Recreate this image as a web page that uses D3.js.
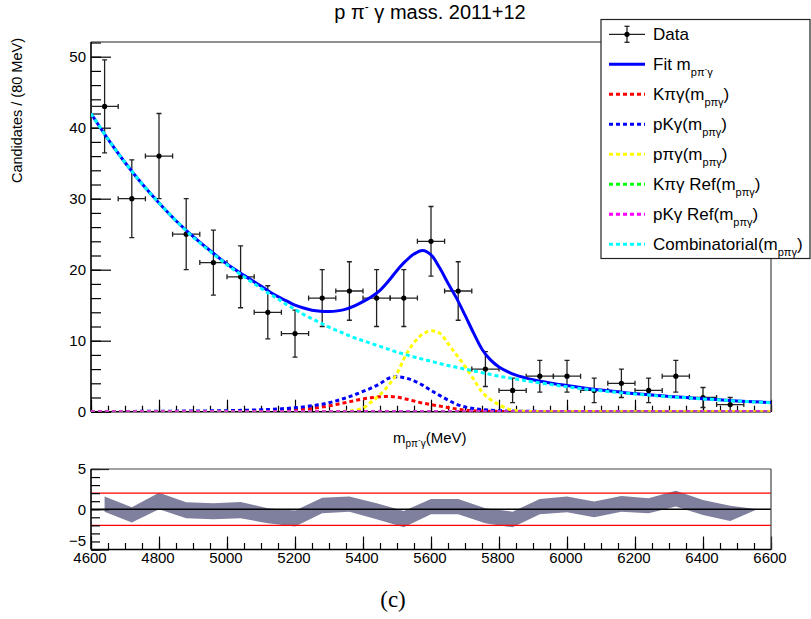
<!DOCTYPE html>
<html><head><meta charset="utf-8">
<script src="https://cdn.jsdelivr.net/npm/d3@7/dist/d3.min.js"></script>
<style>
body{margin:0;background:#fff;}
svg{display:block;font-family:"Liberation Sans",Arial,Helvetica,sans-serif;}
</style></head><body>
<svg id="chart" width="811" height="619"></svg>
<script>
// ---------------- data ----------------
// binned candidates (80 MeV bins)
const binCenters = [4640,4720,4800,4880,4960,5040,5120,5200,5280,5360,5440,5520,5600,5680,5760,5840,5920,6000,6080,6160,6240,6320,6400,6480,6560];
const counts     = [43,30,36,25,21,19,14,11,16,17,16,16,24,17,6,3,5,5,3,4,3,5,2,1,0];
const countErrors= [6.56,5.48,6.0,5.0,4.58,4.36,3.74,3.32,4.0,4.12,4.0,4.0,4.9,4.12,2.45,1.73,2.24,2.24,1.73,2.0,1.73,2.24,1.41,1.0,0];
const binHalfWidth = 40;

// fit model and its components, sampled in mass
const massGrid = [4600,4650,4700,4750,4800,4850,4900,4950,5000,5050,5100,
  5125,5150,5175,5200,5225,5250,5275,5300,5325,5350,5375,5400,5425,5450,5475,5500,5525,5550,5575,5600,5625,5650,5675,5700,5725,5750,5775,5800,5825,5850,5875,5900,
  5950,6000,6050,6100,6150,6200,6250,6300,6350,6400,6450,6500,6550,6600];
const fitTotal = [42.0,38.4,35.1,32.1,29.4,26.9,24.7,22.7,20.8,19.2,17.7,
  16.9,16.2,15.6,15.0,14.6,14.3,14.15,14.1,14.2,14.45,14.9,15.5,16.2,17.1,18.4,19.9,21.2,22.2,22.7,22.1,20.3,18.1,16.0,13.6,11.1,8.8,7.3,6.3,5.65,5.15,4.8,4.5,
  4.05,3.68,3.35,3.05,2.8,2.55,2.35,2.15,2.0,1.82,1.67,1.52,1.4,1.28];
const combinatorial = [42.0,38.4,35.1,32.1,29.4,26.9,24.6,22.6,20.7,19.0,17.4,
  16.6,15.9,15.1,14.4,13.7,13.1,12.5,11.9,11.4,10.9,10.4,10.0,9.6,9.2,8.8,8.4,8.05,7.7,7.4,7.1,6.8,6.5,6.25,6.0,5.75,5.5,5.25,5.0,4.8,4.6,4.4,4.2,
  3.85,3.5,3.2,2.95,2.7,2.5,2.3,2.1,1.95,1.8,1.65,1.5,1.38,1.27];
const kPiGamma = [0,0,0,0,0,0.01,0.01,0.02,0.02,0.03,0.07,
  0.1,0.15,0.22,0.3,0.38,0.47,0.62,0.82,1.05,1.3,1.55,1.8,1.98,2.1,2.15,2.05,1.8,1.5,1.22,1.0,0.8,0.58,0.38,0.22,0.14,0.09,0.06,0.04,0.03,0.02,0.02,0.01,
  0.01,0.01,0,0,0,0,0,0,0,0,0,0,0,0];
const pKGamma = [0.02,0.03,0.04,0.05,0.06,0.08,0.1,0.12,0.15,0.2,0.27,
  0.32,0.38,0.46,0.56,0.68,0.83,1.02,1.27,1.58,1.95,2.38,2.85,3.35,3.95,4.7,4.92,4.75,4.35,3.75,3.0,2.3,1.65,1.05,0.68,0.45,0.3,0.2,0.14,0.1,0.08,0.06,0.05,
  0.04,0.03,0.03,0.02,0.02,0.02,0.01,0.01,0.01,0.01,0.01,0.01,0.01,0.01];
const pPiGamma = [0,0,0,0,0,0,0,0,0,0,0,
  0,0,0,0,0,0,0,0,0.01,0.05,0.2,0.5,1.4,2.4,3.7,5.4,7.9,9.7,10.9,11.4,11.1,9.6,8.0,6.4,4.6,2.8,1.7,1.0,0.4,0.15,0.05,0.02,
  0,0,0,0,0,0,0,0,0,0,0,0,0,0];
const refGrid = [4600,5100,5600,6100,6600];
const kPiGammaRef = [0,0,0,0,0];
const pKGammaRef  = [0,0,0,0,0];

// pull band (upper / lower edge per bin)
const pullHigh = [1.57,0.25,2.06,0.87,0.74,0.9,0.12,-0.17,1.44,1.57,0.74,-0.21,1.28,1.28,0.12,-0.3,1.28,1.57,0.95,1.65,1.36,2.31,1.15,0.45,0];
const pullLow  = [-0.3,-1.66,0.0,-1.12,-1.24,-1.12,-1.74,-2.15,-0.5,-0.3,-1.24,-2.24,-0.62,-0.62,-1.74,-2.24,-0.62,-0.37,-0.99,-0.3,-0.5,0.33,-0.7,-1.45,0];
const pullLimits = [-2, 2];

// axis ticks
const massTicks = [4600,4800,5000,5200,5400,5600,5800,6000,6200,6400,6600];
const countTicks = [0,10,20,30,40,50];
const pullTicks = [-5,0,5];

// ---------------- layout ----------------
const svg = d3.select("#chart");
const left = 91, right = 771;
const x  = d3.scaleLinear().domain([4600, 6600]).range([left, right]);
const y  = d3.scaleLinear().domain([0, 52.07]).range([411.7, 42]);
const yr = d3.scaleLinear().domain([-5, 5]).range([549.5, 469]);

function clean(g){ g.select(".domain").remove(); g.selectAll("line").attr("stroke","#000").attr("stroke-width",1.2); }
function labelStyle(g){ g.select(".domain").remove(); g.selectAll("text").attr("font-size",15).attr("fill","#000").attr("font-family","Liberation Sans, Arial, sans-serif"); }

// ---------------- main panel ----------------
svg.append("clipPath").attr("id","clipMain").append("rect")
  .attr("x", left).attr("y", y.range()[1]).attr("width", right-left).attr("height", y.range()[0]-y.range()[1]);

// y ticks (inside)
svg.append("g").attr("transform",`translate(${left},0)`)
  .call(d3.axisRight(y).tickValues(d3.range(0, 52.07, 2)).tickSize(10).tickFormat("")).call(clean);
svg.append("g").attr("transform",`translate(${left},0)`)
  .call(d3.axisRight(y).tickValues(countTicks).tickSize(20).tickFormat("")).call(clean);
svg.append("g").attr("transform",`translate(${left},0)`)
  .call(d3.axisLeft(y).tickValues(countTicks).tickSize(0).tickPadding(5).tickFormat(d3.format("d")))
  .call(labelStyle);

// x ticks (inside, no labels)
svg.append("g").attr("transform",`translate(0,${y(0)})`)
  .call(d3.axisTop(x).tickValues(d3.range(4600, 6601, 50)).tickSize(6).tickFormat("")).call(clean);
svg.append("g").attr("transform",`translate(0,${y(0)})`)
  .call(d3.axisTop(x).tickValues(massTicks).tickSize(12).tickFormat("")).call(clean);

// frame
svg.append("line").attr("x1",left).attr("x2",right).attr("y1",y.range()[1]).attr("y2",y.range()[1]).attr("stroke","#222").attr("stroke-width",1.2);
svg.append("line").attr("x1",right).attr("x2",right).attr("y1",y.range()[1]).attr("y2",y(0)).attr("stroke","#444").attr("stroke-width",1.2);
svg.append("line").attr("x1",left).attr("x2",left).attr("y1",y.range()[1]).attr("y2",y(0)).attr("stroke","#000").attr("stroke-width",1.6);
svg.append("line").attr("x1",left).attr("x2",right).attr("y1",y(0)).attr("y2",y(0)).attr("stroke","#000").attr("stroke-width",1.6);

// data points with error bars
const pts = binCenters.map((m,i)=>({m, n:counts[i], e:countErrors[i]})).filter(d=>d.n>0);
const gd = svg.append("g").attr("stroke","#222").attr("stroke-width",1.3).attr("clip-path","url(#clipMain)");
pts.forEach(d=>{
  const cx = x(d.m), cy = y(d.n);
  gd.append("line").attr("x1",x(d.m-binHalfWidth)).attr("x2",x(d.m+binHalfWidth)).attr("y1",cy).attr("y2",cy);
  gd.append("line").attr("x1",cx).attr("x2",cx).attr("y1",y(d.n+d.e)).attr("y2",y(d.n-d.e));
  gd.append("line").attr("x1",x(d.m-binHalfWidth)).attr("x2",x(d.m-binHalfWidth)).attr("y1",cy-2.5).attr("y2",cy+2.5);
  gd.append("line").attr("x1",x(d.m+binHalfWidth)).attr("x2",x(d.m+binHalfWidth)).attr("y1",cy-2.5).attr("y2",cy+2.5);
  gd.append("line").attr("x1",cx-2.5).attr("x2",cx+2.5).attr("y1",y(d.n+d.e)).attr("y2",y(d.n+d.e));
  gd.append("line").attr("x1",cx-2.5).attr("x2",cx+2.5).attr("y1",y(d.n-d.e)).attr("y2",y(d.n-d.e));
  gd.append("circle").attr("cx",cx).attr("cy",cy).attr("r",2.6).attr("fill","#000").attr("stroke","none");
});

// curves
const line = d3.line().x(d=>x(d[0])).y(d=>y(d[1])).curve(d3.curveCatmullRom.alpha(0.5));
const curves = [
  {grid: massGrid, vals: fitTotal,      color:"#0000ff", dash:null},
  {grid: massGrid, vals: kPiGamma,      color:"#ff0000", dash:"4 3"},
  {grid: massGrid, vals: pKGamma,       color:"#0000ff", dash:"4 3"},
  {grid: massGrid, vals: pPiGamma,      color:"#ffff00", dash:"4 3"},
  {grid: refGrid,  vals: kPiGammaRef,   color:"#00ff00", dash:"4 3"},
  {grid: refGrid,  vals: pKGammaRef,    color:"#ff00ff", dash:"4 3"},
  {grid: massGrid, vals: combinatorial, color:"#00ffff", dash:"4 3"}
];
const gc = svg.append("g").attr("clip-path","url(#clipMain)");
curves.forEach(c=>{
  gc.append("path").attr("d", line(c.grid.map((m,i)=>[m,c.vals[i]])))
    .attr("fill","none").attr("stroke",c.color).attr("stroke-width",3)
    .attr("stroke-dasharray",c.dash);
});

// title
const title = svg.append("text").attr("x",430).attr("y",19).attr("text-anchor","middle").attr("font-size",20).attr("fill","#000");
title.append("tspan").text("p π");
title.append("tspan").attr("font-size",12).attr("dy",-8).text("-");
title.append("tspan").attr("dy",8).text(" γ mass. 2011+12");

// y title
svg.append("text").attr("transform","translate(22,38) rotate(-90)").attr("text-anchor","end")
  .attr("font-size",14.5).attr("fill","#000").text("Candidates / (80 MeV)");

// x title
const xt = svg.append("text").attr("x",393).attr("y",443).attr("font-size",15).attr("fill","#000");
xt.append("tspan").text("m");
xt.append("tspan").attr("font-size",10).attr("dy",4).text("pπ");
xt.append("tspan").attr("font-size",8).attr("dy",-5).text("-");
xt.append("tspan").attr("font-size",10).attr("dy",5).text("γ");
xt.append("tspan").attr("dy",-4).text("(MeV)");

// legend
const legendRows = [
  {kind:"data", label:"Data"},
  {kind:"line", color:"#0000ff", dash:null, label:"Fit m", sub:"pπ", subSup:"-", subEnd:"γ", tail:""},
  {kind:"line", color:"#ff0000", dash:"4 3", label:"Kπγ(m", sub:"pπγ", tail:")"},
  {kind:"line", color:"#0000ff", dash:"4 3", label:"pKγ(m", sub:"pπγ", tail:")"},
  {kind:"line", color:"#ffff00", dash:"4 3", label:"pπγ(m", sub:"pπγ", tail:")"},
  {kind:"line", color:"#00ff00", dash:"4 3", label:"Kπγ Ref(m", sub:"pπγ", tail:")"},
  {kind:"line", color:"#ff00ff", dash:"4 3", label:"pKγ Ref(m", sub:"pπγ", tail:")"},
  {kind:"line", color:"#00ffff", dash:"4 3", label:"Combinatorial(m", sub:"pπγ", tail:")"}
];
const lg = svg.append("g");
lg.append("rect").attr("x",601).attr("y",19.5).attr("width",209).attr("height",239)
  .attr("fill","#fff").attr("stroke","#222").attr("stroke-width",1.2);
legendRows.forEach((r,i)=>{
  const cy = 34.3 + 30*i;
  if(r.kind==="data"){
    lg.append("line").attr("x1",609).attr("x2",645).attr("y1",cy).attr("y2",cy).attr("stroke","#222").attr("stroke-width",1.3);
    lg.append("line").attr("x1",627).attr("x2",627).attr("y1",cy-8).attr("y2",cy+8).attr("stroke","#222").attr("stroke-width",1.3);
    lg.append("line").attr("x1",624.5).attr("x2",629.5).attr("y1",cy-8).attr("y2",cy-8).attr("stroke","#222").attr("stroke-width",1.3);
    lg.append("line").attr("x1",624.5).attr("x2",629.5).attr("y1",cy+8).attr("y2",cy+8).attr("stroke","#222").attr("stroke-width",1.3);
    lg.append("circle").attr("cx",627).attr("cy",cy).attr("r",2.6).attr("fill","#000");
  } else {
    lg.append("line").attr("x1",609).attr("x2",645).attr("y1",cy).attr("y2",cy)
      .attr("stroke",r.color).attr("stroke-width",3).attr("stroke-dasharray",r.dash);
  }
  const t = lg.append("text").attr("x",653).attr("y",cy+6).attr("font-size",17).attr("fill","#000");
  t.append("tspan").text(r.label);
  if(r.sub){
    t.append("tspan").attr("font-size",11).attr("dy",6).text(r.sub);
    if(r.subSup){
      t.append("tspan").attr("font-size",8).attr("dy",-5).text(r.subSup);
      t.append("tspan").attr("font-size",11).attr("dy",5).text(r.subEnd);
    }
    if(r.tail) t.append("tspan").attr("dy",-6).text(r.tail);
  }
});

// ---------------- pull panel ----------------
const band = binCenters.map((m,i)=>({m, hi:pullHigh[i], lo:pullLow[i]}));
svg.append("path").datum(band)
  .attr("d", d3.area().x(d=>x(d.m)).y0(d=>yr(d.lo)).y1(d=>yr(d.hi)))
  .attr("fill","#7f7f9e");
pullLimits.forEach(v=>{
  svg.append("line").attr("x1",left).attr("x2",right).attr("y1",yr(v)).attr("y2",yr(v)).attr("stroke","#ff0000").attr("stroke-width",1.2);
});
svg.append("line").attr("x1",left).attr("x2",right).attr("y1",yr(0)).attr("y2",yr(0)).attr("stroke","#000").attr("stroke-width",1.3);

svg.append("g").attr("transform",`translate(${left},0)`)
  .call(d3.axisRight(yr).tickValues(d3.range(-5, 5.01, 1)).tickSize(9).tickFormat("")).call(clean);
svg.append("g").attr("transform",`translate(${left},0)`)
  .call(d3.axisRight(yr).tickValues(pullTicks).tickSize(18).tickFormat("")).call(clean);
svg.append("g").attr("transform",`translate(${left},0)`)
  .call(d3.axisLeft(yr).tickValues(pullTicks).tickSize(0).tickPadding(5).tickFormat(d3.format("d")))
  .call(labelStyle)
  // the lowest label sits just above the mass labels
  .call(g => g.selectAll(".tick").filter(d => d === -5).select("text").attr("dy","-0.3em"));

svg.append("g").attr("transform",`translate(0,${yr(-5)})`)
  .call(d3.axisTop(x).tickValues(d3.range(4600, 6601, 50)).tickSize(6.5).tickFormat("")).call(clean);
svg.append("g").attr("transform",`translate(0,${yr(-5)})`)
  .call(d3.axisTop(x).tickValues(massTicks).tickSize(13).tickFormat("")).call(clean);
svg.append("g").attr("transform",`translate(-1.5,${yr(-5)})`)
  .call(d3.axisBottom(x).tickValues(massTicks).tickSize(0).tickPadding(3).tickFormat(d3.format("d")))
  .call(labelStyle);

svg.append("line").attr("x1",left).attr("x2",right).attr("y1",yr(5)).attr("y2",yr(5)).attr("stroke","#444").attr("stroke-width",1.2);
svg.append("line").attr("x1",right).attr("x2",right).attr("y1",yr(5)).attr("y2",yr(-5)).attr("stroke","#444").attr("stroke-width",1.2);
svg.append("line").attr("x1",left).attr("x2",left).attr("y1",yr(5)).attr("y2",yr(-5)).attr("stroke","#000").attr("stroke-width",1.6);
svg.append("line").attr("x1",left).attr("x2",right).attr("y1",yr(-5)).attr("y2",yr(-5)).attr("stroke","#000").attr("stroke-width",1.6);

// caption
svg.append("text").attr("x",393).attr("y",607).attr("text-anchor","middle")
  .attr("font-family","Liberation Serif, DejaVu Serif, serif").attr("font-size",23).attr("fill","#000").text("(c)");
</script>
</body></html>
